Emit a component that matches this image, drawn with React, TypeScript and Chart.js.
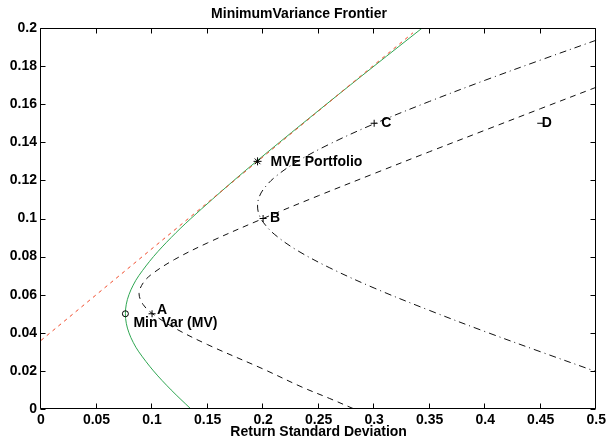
import React, { useEffect, useRef } from 'react';
import { Chart, registerables } from 'chart.js';

Chart.register(...registerables);

// Efficient frontier of all risky assets (solid green)
const frontierMu = [0, 0.01, 0.02, 0.03, 0.035, 0.04, 0.045, 0.05, 0.055, 0.06, 0.065, 0.07, 0.08, 0.09, 0.1, 0.12, 0.13, 0.14, 0.16, 0.18, 0.2];
const frontierSigma = [0.135, 0.1172, 0.1013, 0.0881, 0.083, 0.0792, 0.0768, 0.076, 0.0768, 0.0792, 0.083, 0.0881, 0.1013, 0.1172, 0.135, 0.1737, 0.194, 0.2148, 0.257, 0.2999, 0.3433];

// Capital allocation line through the MVE portfolio (dotted red)
const tangentSigma = [0, 0.335];
const tangentMu = [0.036, 0.1975];

// Frontier of portfolios built from A and B (dashed)
const abSigma = [0.5, 0.45, 0.4, 0.35, 0.3, 0.25, 0.2, 0.15, 0.12, 0.1, 0.092, 0.0883, 0.092, 0.1, 0.12, 0.15, 0.2, 0.235, 0.26, 0.282];
const abMu = [0.1689, 0.1577, 0.1464, 0.1351, 0.1236, 0.112, 0.1, 0.0872, 0.0784, 0.0709, 0.0662, 0.0605, 0.0548, 0.0502, 0.0426, 0.0338, 0.021, 0.0115, 0.0055, 0];

// Frontier of portfolios built from B and C (dash-dot)
const bcSigma = [0.5, 0.45, 0.4, 0.35, 0.3, 0.26, 0.23, 0.21, 0.2, 0.196, 0.195, 0.196, 0.2, 0.21, 0.23, 0.26, 0.3, 0.35, 0.4, 0.45, 0.5];
const bcMu = [0.1936, 0.1832, 0.1726, 0.1615, 0.1497, 0.1391, 0.1297, 0.1214, 0.1151, 0.1105, 0.1066, 0.1027, 0.0981, 0.0918, 0.0835, 0.0741, 0.0635, 0.0517, 0.0406, 0.03, 0.0196];

// Marked portfolios and assets
const markerLabels = ['Min Var (MV)', 'A', 'MVE Portfolio', 'B', 'C', 'D'];
const markerSigma = [0.076, 0.1, 0.195, 0.2, 0.3, 0.45];
const markerMu = [0.05, 0.05, 0.13, 0.1, 0.15, 0.15];

// Axis ticks
const xTicks = [0, 0.05, 0.1, 0.15, 0.2, 0.25, 0.3, 0.35, 0.4, 0.45, 0.5];
const yTicks = [0, 0.02, 0.04, 0.06, 0.08, 0.1, 0.12, 0.14, 0.16, 0.18, 0.2];

const chartTitle = 'MinimumVariance Frontier';
const xTitle = 'Return Standard Deviation';

// Presentation
const FONT = "'Liberation Sans', Arial, Helvetica, sans-serif";
const markerStyles = ['circle', 'cross', 'star', 'cross', 'cross', 'line'];
const markerRadii = [3, 3.5, 4, 3.5, 3.5, 3.5];
const labelOffsets: [number, number][] = [[8, 9], [5, -4], [13, 1], [7, 0], [7, 0], [1, 0]];

const pts = (xs: number[], ys: number[]) => xs.map((x, i) => ({ x, y: ys[i] }));
const fmt = (v: number | string) => String(+Number(v).toFixed(3));

// Box around the plot area with inward tick marks on all four sides
const boxPlugin = {
  id: 'boxTicks',
  afterDraw(chart: any) {
    const { ctx, chartArea: a, scales } = chart;
    const xs = scales.x;
    const ys = scales.y;
    const L = Math.round(a.left) - 0.5;
    const R = Math.round(a.right) - 0.5;
    const T = Math.round(a.top) + 0.5;
    const B = Math.round(a.bottom) - 0.5;
    const len = 5;
    ctx.save();
    ctx.strokeStyle = '#000';
    ctx.lineWidth = 1;
    ctx.setLineDash([]);
    ctx.beginPath();
    ctx.rect(L, T, R - L, B - T);
    xTicks.forEach((t) => {
      const px = Math.round(xs.getPixelForValue(t)) - 0.5;
      ctx.moveTo(px, B);
      ctx.lineTo(px, B - len);
      ctx.moveTo(px, T);
      ctx.lineTo(px, T + len);
    });
    yTicks.forEach((t) => {
      const py = Math.round(ys.getPixelForValue(t)) + 0.5;
      ctx.moveTo(L, py);
      ctx.lineTo(L + len, py);
      ctx.moveTo(R, py);
      ctx.lineTo(R - len, py);
    });
    ctx.stroke();
    ctx.restore();
  },
};

// Text annotations next to the marked points
const labelPlugin = {
  id: 'pointLabels',
  afterDatasetsDraw(chart: any) {
    const { ctx, scales } = chart;
    ctx.save();
    ctx.font = `bold 14px ${FONT}`;
    ctx.fillStyle = '#000';
    ctx.textAlign = 'left';
    ctx.textBaseline = 'middle';
    markerLabels.forEach((text, i) => {
      const px = scales.x.getPixelForValue(markerSigma[i]) + labelOffsets[i][0];
      const py = scales.y.getPixelForValue(markerMu[i]) + labelOffsets[i][1];
      ctx.fillText(text, px, py);
    });
    ctx.restore();
  },
};

export default function App() {
  const ref = useRef<HTMLCanvasElement>(null);

  useEffect(() => {
    if (!ref.current) return;
    const chart = new Chart(ref.current, {
      type: 'scatter',
      data: {
        datasets: [
          {
            label: 'points',
            data: pts(markerSigma, markerMu),
            showLine: false,
            pointStyle: markerStyles as any,
            pointRadius: markerRadii,
            borderColor: '#000',
            backgroundColor: 'rgba(0,0,0,0)',
            borderWidth: 1,
          },
          {
            label: 'CAL',
            data: pts(tangentSigma, tangentMu),
            showLine: true,
            borderColor: '#f04a2a',
            borderWidth: 1,
            borderDash: [3.5, 4],
            pointRadius: 0,
          },
          {
            label: 'frontier',
            data: pts(frontierSigma, frontierMu),
            showLine: true,
            borderColor: '#2fa652',
            borderWidth: 1,
            tension: 0.35,
            pointRadius: 0,
          },
          {
            label: 'A-B',
            data: pts(abSigma, abMu),
            showLine: true,
            borderColor: '#111',
            borderWidth: 1,
            borderDash: [6, 5],
            tension: 0.35,
            pointRadius: 0,
          },
          {
            label: 'B-C',
            data: pts(bcSigma, bcMu),
            showLine: true,
            borderColor: '#111',
            borderWidth: 1,
            borderDash: [7, 4, 1, 4],
            tension: 0.35,
            pointRadius: 0,
          },
        ],
      },
      options: {
        animation: false,
        responsive: false,
        layout: { padding: { left: 0, right: 11, top: 0, bottom: 0 } },
        plugins: {
          legend: { display: false },
          tooltip: { enabled: false },
          title: {
            display: true,
            text: chartTitle,
            color: '#000',
            font: { family: FONT, size: 14, weight: 'bold' },
            padding: { top: 6, bottom: 5.2 },
          },
        },
        scales: {
          x: {
            type: 'linear',
            min: 0,
            max: 0.5,
            afterFit: (s: any) => { s.height = 32; },
            afterBuildTicks: (s: any) => { s.ticks = xTicks.map((v) => ({ value: v })); },
            grid: { display: false, drawTicks: false },
            border: { display: false },
            ticks: {
              autoSkip: false,
              maxRotation: 0,
              padding: 3,
              color: '#000',
              font: { family: FONT, size: 14, weight: 'bold' },
              callback: (v: any) => fmt(v),
            },
            title: {
              display: true,
              text: xTitle,
              color: '#000',
              font: { family: FONT, size: 14, weight: 'bold' },
              padding: { top: 0, bottom: 0 },
            },
          },
          y: {
            type: 'linear',
            min: 0,
            max: 0.2,
            afterFit: (s: any) => { s.width = 41; },
            afterBuildTicks: (s: any) => { s.ticks = yTicks.map((v) => ({ value: v })); },
            grid: { display: false, drawTicks: false },
            border: { display: false },
            ticks: {
              autoSkip: false,
              padding: 4,
              color: '#000',
              font: { family: FONT, size: 14, weight: 'bold' },
              callback: (v: any) => fmt(v),
            },
          },
        },
      },
      plugins: [boxPlugin, labelPlugin],
    });
    return () => chart.destroy();
  }, []);

  return (
    <div style={{ position: 'fixed', left: 0, top: 0, width: 609, height: 441, background: '#fff' }}>
      <canvas ref={ref} width={609} height={441} style={{ display: 'block' }} />
    </div>
  );
}
